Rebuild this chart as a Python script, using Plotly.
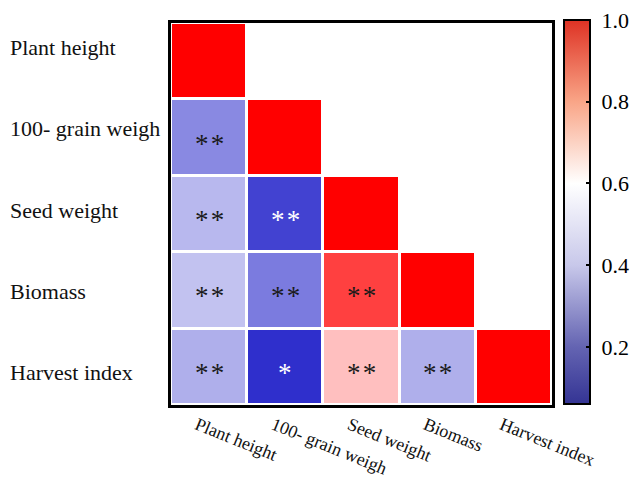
import plotly.graph_objects as go

traits = ["Plant height", "100- grain weigh", "Seed weight", "Biomass", "Harvest index"]

# Lower-triangle correlation values (rows = traits, columns = traits); None above the diagonal
corr = [
    [1.00, None, None, None, None],
    [0.35, 1.00, None, None, None],
    [0.45, 0.20, 1.00, None, None],
    [0.47, 0.32, 0.90, 1.00, None],
    [0.43, 0.16, 0.70, 0.43, 1.00],
]

# Significance marks for each cell
signif = [
    ["", "", "", "", ""],
    ["**", "", "", "", ""],
    ["**", "**", "", "", ""],
    ["**", "**", "**", "", ""],
    ["**", "*", "**", "**", ""],
]

zmin, zmax = 0.06, 1.0
tick_vals = [0.2, 0.4, 0.6, 0.8, 1.0]

mid = (0.6 - zmin) / (zmax - zmin)
cell_scale = [[0.0, "rgb(0,0,193)"], [mid, "rgb(255,255,255)"], [1.0, "rgb(255,0,0)"]]
bar_scale = [
    [0.0, "rgb(52,52,148)"],
    [(0.2 - zmin) / (zmax - zmin), "rgb(100,100,178)"],
    [(0.4 - zmin) / (zmax - zmin), "rgb(200,200,234)"],
    [mid, "rgb(255,255,255)"],
    [(0.8 - zmin) / (zmax - zmin), "rgb(249,165,135)"],
    [1.0, "rgb(222,50,36)"],
]

serif = "Liberation Serif"
nbsp = "\u00a0"
hair = "\u200a"

fig = go.Figure()
fig.add_trace(go.Heatmap(
    z=corr, x=traits, y=traits,
    zmin=zmin, zmax=zmax, colorscale=cell_scale,
    xgap=3, ygap=3, showscale=False, hoverongaps=False,
))

# Colour bar drawn from an invisible marker trace
fig.add_trace(go.Scatter(
    x=[traits[0]], y=[traits[0]], mode="markers",
    marker=dict(size=1, opacity=0, color=[zmax], cmin=zmin, cmax=zmax,
                colorscale=bar_scale, showscale=True,
                colorbar=dict(
                    thickness=26, len=384, lenmode="pixels",
                    x=1.0315, xanchor="left", xpad=0,
                    y=0.505, yanchor="middle", ypad=0,
                    outlinewidth=2, outlinecolor="black",
                    tickvals=tick_vals,
                    ticktext=[nbsp + f"{v:.1f}" for v in tick_vals],
                    ticks="inside", ticklen=5, tickwidth=2, tickcolor="black",
                    tickfont=dict(family=serif, size=22, color="black"),
                )),
    hoverinfo="skip", showlegend=False,
))

# Significance asterisks
for i, row in enumerate(signif):
    for j, mark in enumerate(row):
        if not mark:
            continue
        v = corr[i][j]
        color = "white" if v is not None and v < 0.25 else "#1a1a1a"
        fig.add_annotation(
            x=traits[j], y=traits[i], text=hair.join(mark),
            showarrow=False, yshift=-6,
            font=dict(family=serif, size=27, color=color),
        )

# Row labels, left aligned and spread slightly wider than the rows
for i, name in enumerate(traits):
    fig.add_annotation(
        x=-0.427, xref="paper", y=name, yref="y", xanchor="left",
        yshift=14 - 5 * i,
        text=name, showarrow=False,
        font=dict(family=serif, size=22, color="#111111"),
    )

fig.update_xaxes(
    type="category", categoryorder="array", categoryarray=traits,
    showline=True, linewidth=2.5, linecolor="black", mirror=True,
    showgrid=False, zeroline=False, ticks="", automargin=False,
    tickangle=22, ticklabelshift=-12, ticklabelstandoff=0,
    tickfont=dict(family=serif, size=18, color="#111111"),
)
fig.update_yaxes(
    type="category", categoryorder="array", categoryarray=traits,
    autorange="reversed", automargin=False,
    showline=True, linewidth=2.5, linecolor="black", mirror=True,
    showgrid=False, zeroline=False, ticks="", showticklabels=False,
)

fig.update_layout(
    width=634, height=478,
    margin=dict(l=171, r=82, t=23, b=73, autoexpand=False),
    paper_bgcolor="white", plot_bgcolor="white",
    showlegend=False,
)

fig.write_html("out.html")
